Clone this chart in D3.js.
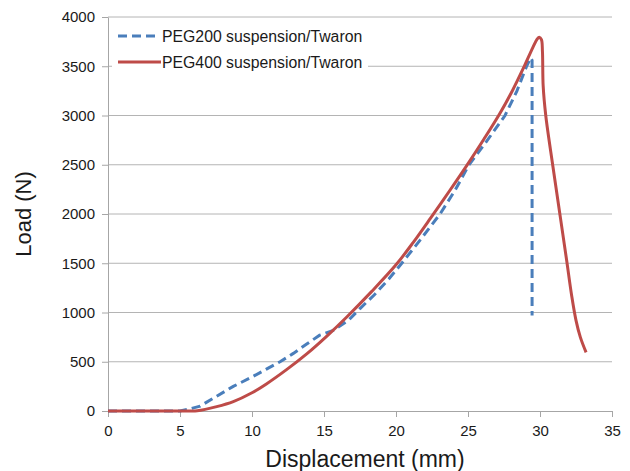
<!DOCTYPE html>
<html>
<head>
  <meta charset="utf-8">
  <script src="https://cdn.jsdelivr.net/npm/d3@7/dist/d3.min.js"></script>
  <title>Load vs displacement</title>
  <style>
    body { margin: 0; background: #fff; }
    svg text { font-family: "Liberation Sans", Arial, sans-serif; fill: #1a1a1a; }
    .grid line { stroke: #b4b4b4; stroke-width: 1px; }
    .axis path, .axis line { stroke: #a6a6a6; }
  </style>
</head>
<body>
<svg id="chart" width="630" height="471"></svg>
<script>
  // series: [displacement mm, load N]
  var peg200 = [
    [0, 0], [5, 0], [5.6, 18], [6.4, 50], [7.55, 150], [8.7, 250], [10, 345],
    [11, 425], [11.95, 500], [12.87, 585], [13.8, 680], [14.7, 770], [15.6, 815],
    [16.7, 920], [17.5, 1040], [18.5, 1180], [19.5, 1340], [20.4, 1500], [21.7, 1740],
    [23.06, 2000], [24.1, 2240], [25.07, 2500], [26.3, 2740], [27.57, 3000],
    [28.4, 3250], [29.07, 3500], [29.35, 3585], [29.45, 3560], [29.45, 970]
  ];
  var peg400 = [
    [0, 0], [5.5, 0], [6.2, 2], [7.55, 44], [8.7, 95], [10, 185], [11, 275],
    [12.4, 420], [13.8, 580], [15.2, 761], [16.6, 957], [18.3, 1212], [20, 1484],
    [21.2, 1712], [22.4, 1958], [23.7, 2231], [24.9, 2489], [26.1, 2759], [27.2, 3018],
    [28.1, 3257], [28.9, 3497], [29.5, 3689], [29.8, 3775], [29.95, 3795],
    [30.1, 3770], [30.17, 3650], [30.22, 3300], [30.4, 3000], [30.9, 2480],
    [31.4, 1980], [31.85, 1530], [32.2, 1170], [32.5, 920], [32.8, 750], [33.2, 595]
  ];
  var seriesNames = ["PEG200 suspension/Twaron", "PEG400 suspension/Twaron"];
  var xTicks = [0, 5, 10, 15, 20, 25, 30, 35];
  var yTicks = [0, 500, 1000, 1500, 2000, 2500, 3000, 3500, 4000];

  var margin = {top: 17, right: 18, bottom: 60, left: 108};
  var svg = d3.select("#chart");
  var w = 630 - margin.left - margin.right;
  var h = 471 - margin.top - margin.bottom;
  var g = svg.append("g").attr("transform", "translate(" + margin.left + "," + margin.top + ")");

  var x = d3.scaleLinear().domain([0, 35]).range([0, w]);
  var y = d3.scaleLinear().domain([0, 4000]).range([h, 0]);

  // horizontal gridlines
  g.append("g").attr("class", "grid")
    .selectAll("line").data(yTicks.slice(1)).enter().append("line")
    .attr("x1", 0).attr("x2", w)
    .attr("y1", function(d) { return y(d); }).attr("y2", function(d) { return y(d); });

  var xAxis = g.append("g").attr("class", "axis")
    .attr("transform", "translate(0," + h + ")")
    .call(d3.axisBottom(x).tickValues(xTicks).tickFormat(d3.format("d")).tickSize(6).tickSizeOuter(0));
  xAxis.selectAll("text").attr("font-size", "15px").attr("dy", "1.05em");

  var yAxis = g.append("g").attr("class", "axis")
    .call(d3.axisLeft(y).tickValues(yTicks).tickFormat(d3.format("d")).tickSize(6).tickSizeOuter(0));
  yAxis.selectAll("text").attr("font-size", "15px").attr("x", -13);

  var line200 = d3.line().x(function(d) { return x(d[0]); }).y(function(d) { return y(d[1]); });
  var line400 = d3.line().curve(d3.curveCatmullRom.alpha(0.5))
    .x(function(d) { return x(d[0]); }).y(function(d) { return y(d[1]); });

  g.append("path").datum(peg200)
    .attr("d", line200)
    .attr("fill", "none").attr("stroke", "#4a7ebb").attr("stroke-width", 3)
    .attr("stroke-dasharray", "9,5");

  g.append("path").datum(peg400)
    .attr("d", line400)
    .attr("fill", "none").attr("stroke", "#be4b48").attr("stroke-width", 3);

  // legend
  var lg = svg.append("g");
  lg.append("rect").attr("x", 112).attr("y", 24).attr("width", 256).attr("height", 48).attr("fill", "#fff");
  lg.append("line").attr("x1", 118).attr("x2", 156).attr("y1", 36).attr("y2", 36)
    .attr("stroke", "#4a7ebb").attr("stroke-width", 3).attr("stroke-dasharray", "9,5");
  lg.append("line").attr("x1", 118).attr("x2", 161).attr("y1", 62).attr("y2", 62)
    .attr("stroke", "#be4b48").attr("stroke-width", 3);
  lg.selectAll("text.leg").data(seriesNames).enter().append("text")
    .attr("x", 162).attr("y", function(d, i) { return 36 + i * 26; })
    .attr("dy", "0.35em").attr("font-size", "15.8px").text(function(d) { return d; });

  // axis titles
  svg.append("text").attr("x", margin.left + w / 2 + 5).attr("y", 467)
    .attr("text-anchor", "middle").attr("font-size", "23px").text("Displacement (mm)");
  svg.append("text").attr("transform", "translate(31," + (margin.top + h / 2) + ") rotate(-90)")
    .attr("text-anchor", "middle").attr("font-size", "22px").text("Load (N)");
</script>
</body>
</html>
